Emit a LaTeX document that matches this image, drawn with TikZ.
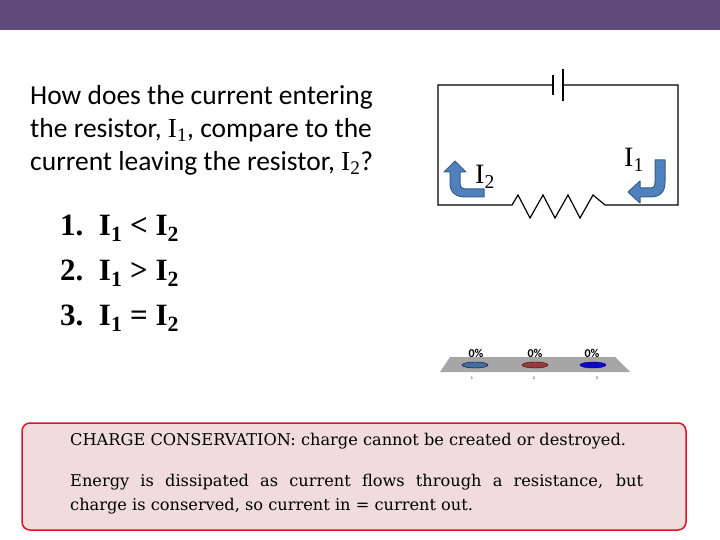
\documentclass[tikz,border=0pt]{standalone}
\usepackage{fontspec}
\setmainfont{Carlito}
\newfontfamily\serif{Liberation Serif}
\newfontfamily\dserif{DejaVu Serif}
\begin{document}
\begin{tikzpicture}[x=1pt,y=-1pt,
  wire/.style={line width=1.2pt},
  arr/.style={draw={rgb,255:red,56;green,93;blue,138},fill={rgb,255:red,79;green,129;blue,189},line width=1pt,line join=round},
  pct/.style={font=\bfseries\fontsize{12}{12}\selectfont},
  tiny/.style={font=\fontsize{4}{4}\selectfont}]
\useasboundingbox (0,0) rectangle (720,540);
\fill[white] (0,0) rectangle (720,540);
\fill[fill={rgb,255:red,96;green,74;blue,123}] (0,0) rectangle (720,30);
\node[anchor=north west,align=left,inner sep=0,font=\fontsize{27.5}{33}\selectfont] (q) at (30,85)
 {How does the current entering\\the resistor, {\serif I\textsubscript{1}}, compare to the\\current leaving the resistor, {\serif I\textsubscript{2}}?};
\node[anchor=north west,align=left,inner sep=0,font=\serif\bfseries\fontsize{31}{45}\selectfont] (list) at (60,215)
 {1.\ \ I\textsubscript{1} < I\textsubscript{2}\\2.\ \ I\textsubscript{1} > I\textsubscript{2}\\3.\ \ I\textsubscript{1} = I\textsubscript{2}};
% circuit
\coordinate (tl) at (438,85); \coordinate (tr) at (678,85);
\coordinate (bl) at (438,205); \coordinate (br) at (678,205);
\draw[wire] (553,85) -- (tl) -- (bl) -- (512,205)
  -- (518,195) -- (530,218) -- (543,195) -- (555,218) -- (568,195) -- (580,218) -- (593,195) -- (605,205) -- (br) -- (tr) -- (563,85);
\draw[wire] (553,75) -- (553,95);
\draw[wire] (563,69) -- (563,101);
\node[font=\serif\fontsize{28}{28}\selectfont] (i2) at (485,177) {I\textsubscript{2}};
\node[font=\serif\fontsize{28}{28}\selectfont] (i1) at (634,160) {I\textsubscript{1}};
\draw[arr] (484,197) -- (466,197) .. controls (455,197) and (450,192) .. (450,183) -- (450,172) -- (444,172) -- (455,161) -- (466,172) -- (460,172) -- (460,183) .. controls (460,187) and (462,189) .. (466,189) -- (484,189) -- cycle;
\draw[arr] (665,160) -- (665,182) .. controls (665,192) and (660,197) .. (650,197) -- (640,197) -- (640,203) -- (628,192) -- (640,181) -- (640,188) -- (650,188) .. controls (654,188) and (655,186) .. (655,182) -- (655,160) -- cycle;
% chart
\fill[gray!70] (450,357) -- (615,357) -- (630,372) -- (440,372) -- cycle;
\draw[fill={rgb,255:red,70;green,110;blue,160},draw=blue!30!black] (475,365) ellipse[x radius=13,y radius=3];
\draw[fill={rgb,255:red,150;green,60;blue,60},draw=red!30!black] (535,365) ellipse[x radius=13,y radius=3];
\draw[fill={rgb,255:red,10;green,10;blue,200},draw=blue!50!black] (593,365) ellipse[x radius=13,y radius=3];
\node[pct] (p1) at (476,353) {0\%};
\node[pct] (p2) at (535,353) {0\%};
\node[pct] (p3) at (592,353) {0\%};
\node[tiny] (n1) at (472,378) {1};
\node[tiny] (n2) at (534,378) {2};
\node[tiny] (n3) at (597,378) {3};
% box
\draw[draw={rgb,255:red,220;green,20;blue,40},fill={rgb,255:red,240;green,220;blue,220},line width=1.5pt,rounded corners=8pt] (22,423) rectangle (686,530);
\node[anchor=north west,inner sep=0,font=\dserif\fontsize{16.2}{16}\selectfont] (t1) at (70,433) {CHARGE CONSERVATION: charge cannot be created or destroyed.};
\node[anchor=north west,inner sep=0,align=justify,text width=573pt,font=\dserif\fontsize{16.2}{24}\selectfont] (t2) at (70,474) {Energy is dissipated as current flows through a resistance, but\linebreak charge is conserved, so current in = current out.};
\end{tikzpicture}
\end{document}
